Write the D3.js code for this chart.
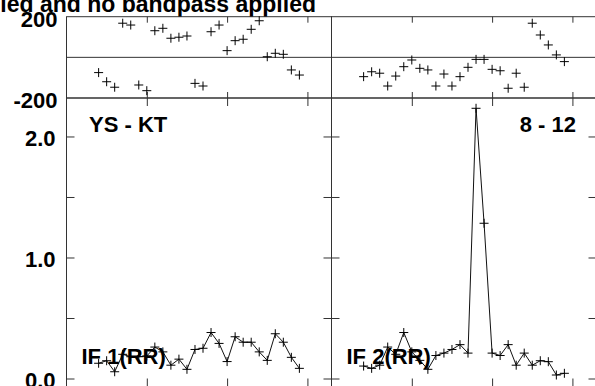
<!DOCTYPE html>
<html>
<head>
<meta charset="utf-8">
<script src="https://cdn.jsdelivr.net/npm/d3@7"></script>
<style>
  body { margin: 0; background: #fff; }
  svg { display: block; font-family: "Liberation Sans", Arial, sans-serif; font-weight: bold; }
</style>
</head>
<body>
<div id="chart"></div>
<script>
// channels shown in each panel
var channels = d3.range(4, 30);

// phase (degrees) per channel
var phaseIF1 = [-75, -120, -147, 168, 159, -136, -164, 131, 143, 94, 99, 105, -128,
                -141, 126, 159, 33, 82, 89, 138, 180, 3, 20, 15, -62, -87];
var phaseIF2 = [-95, -71, -78, -141, -92, -46, -13, -54, -62, -141, -82, -141, -95,
                -49, -10, -10, -59, -66, -152, -78, -147, 168, 110, 61, 12, -21];

// amplitude per channel
var ampIF1 = [0.126, 0.147, 0.056, 0.20, 0.18, 0.18, 0.186, 0.26, 0.22, 0.11, 0.16, 0.076, 0.24,
              0.25, 0.38, 0.29, 0.14, 0.345, 0.30, 0.30, 0.22, 0.15, 0.37, 0.30, 0.175, 0.084];
var ampIF2 = [0.103, 0.084, 0.11, 0.26, 0.20, 0.38, 0.22, 0.15, 0.076, 0.19, 0.21, 0.24, 0.28,
              0.21, 2.233, 1.283, 0.21, 0.19, 0.28, 0.11, 0.21, 0.11, 0.147, 0.139, 0.029, 0.043];

var ampTicks = [0, 0.5, 1, 1.5, 2];
var phaseTicks = [-200, 200];
var chanTicks = [10, 20, 30];

var title = "No calibration applied and no bandpass applied";
var panels = [
  {if: "IF 1(RR)", label: "YS - KT", phase: phaseIF1, amp: ampIF1},
  {if: "IF 2(RR)", label: "8 - 12", phase: phaseIF2, amp: ampIF2}
];

var width = 595, height = 386;
var svg = d3.select("#chart").append("svg")
  .attr("width", width).attr("height", height);

var left = 66.5, panelW = 265;
var phTop = 16.7, phBot = 98, ampBot = 386.5;

var yPh = d3.scaleLinear().domain([-200, 200]).range([phBot, phTop]);
var yAmp = d3.scaleLinear().domain([-0.066, 2.318]).range([ampBot, phBot]);

var plus = "M-4.5,0H4.5M0,-4.5V4.5";
var frameColor = "#333";

// title, cut at the top like the original
svg.append("text")
  .attr("x", 316).attr("y", 12)
  .attr("text-anchor", "end")
  .style("font-size", "23px")
  .text(title);

panels.forEach(function(p, i) {
  var x0 = left + i * panelW;
  var x = d3.scaleLinear().domain([0, 33]).range([x0, x0 + panelW]);
  var g = svg.append("g");

  // frames
  g.append("rect").attr("x", x0).attr("y", phTop).attr("width", panelW).attr("height", phBot - phTop)
    .attr("fill", "none").attr("stroke", frameColor);
  g.append("rect").attr("x", x0).attr("y", phBot).attr("width", panelW).attr("height", ampBot - phBot)
    .attr("fill", "none").attr("stroke", frameColor);
  g.append("line").attr("x1", x0).attr("x2", x0 + panelW).attr("y1", yPh(0)).attr("y2", yPh(0))
    .attr("stroke", frameColor);

  // channel ticks (inward)
  function xAxis(axis, y) {
    var a = g.append("g").attr("transform", "translate(0," + y + ")")
      .call(axis.tickValues(chanTicks).tickFormat(""));
    a.select(".domain").remove();
    a.selectAll("line").attr("stroke", frameColor);
  }
  xAxis(d3.axisBottom(x).tickSize(6), phTop);
  xAxis(d3.axisTop(x).tickSize(6), phBot);
  xAxis(d3.axisBottom(x).tickSize(8), phBot);
  xAxis(d3.axisTop(x).tickSize(8), ampBot);

  // amplitude ticks on both sides
  var ampL = g.append("g").attr("transform", "translate(" + x0 + ",0)")
    .call(d3.axisLeft(yAmp).tickValues(ampTicks).tickSizeInner(-8).tickSizeOuter(0).tickPadding(11)
      .tickFormat(function(d) { return (i === 0 && d % 1 === 0) ? d.toFixed(1) : ""; }));
  var ampR = g.append("g").attr("transform", "translate(" + (x0 + panelW) + ",0)")
    .call(d3.axisRight(yAmp).tickValues(ampTicks).tickSizeInner(-8).tickSizeOuter(0).tickFormat(""));
  [ampL, ampR].forEach(function(a) {
    a.select(".domain").remove();
    a.selectAll("line").attr("stroke", frameColor);
    a.selectAll("text").attr("dy", "0.42em").style("font-size", "22px")
      .style("font-family", "'Liberation Sans', Arial, sans-serif").attr("fill", "#000");
  });

  if (i === 0) {
    var phL = g.append("g").attr("transform", "translate(" + x0 + ",0)")
      .call(d3.axisLeft(yPh).tickValues(phaseTicks).tickSize(0).tickPadding(9)
        .tickFormat(function(d) { return String(d); }));
    phL.select(".domain").remove();
    phL.selectAll("text").attr("dy", "0.44em").style("font-size", "22px")
      .style("font-family", "'Liberation Sans', Arial, sans-serif").attr("fill", "#000");
  }

  // phase points
  g.selectAll(".ph").data(p.phase).enter().append("path")
    .attr("d", plus)
    .attr("transform", function(d, k) { return "translate(" + x(channels[k]) + "," + yPh(d) + ")"; })
    .attr("stroke", "#000").attr("fill", "none");

  // amplitude line + points
  var line = d3.line().x(function(d, k) { return x(channels[k]); }).y(function(d) { return yAmp(d); });
  g.append("path").datum(p.amp).attr("d", line)
    .attr("fill", "none").attr("stroke", "#111").attr("stroke-width", 1);
  g.selectAll(".am").data(p.amp).enter().append("path")
    .attr("d", plus)
    .attr("transform", function(d, k) { return "translate(" + x(channels[k]) + "," + yAmp(d) + ")"; })
    .attr("stroke", "#000").attr("fill", "none");

  // labels
  if (i === 0) {
    g.append("text").attr("x", 89).attr("y", 131.5).style("font-size", "22px").text(p.label);
  } else {
    g.append("text").attr("x", 576).attr("y", 131.5).attr("text-anchor", "end")
      .style("font-size", "22px").text(p.label);
  }
  g.append("text").attr("x", x0 + 15).attr("y", 364).style("font-size", "22px").text(p.if);
});
</script>
</body>
</html>
